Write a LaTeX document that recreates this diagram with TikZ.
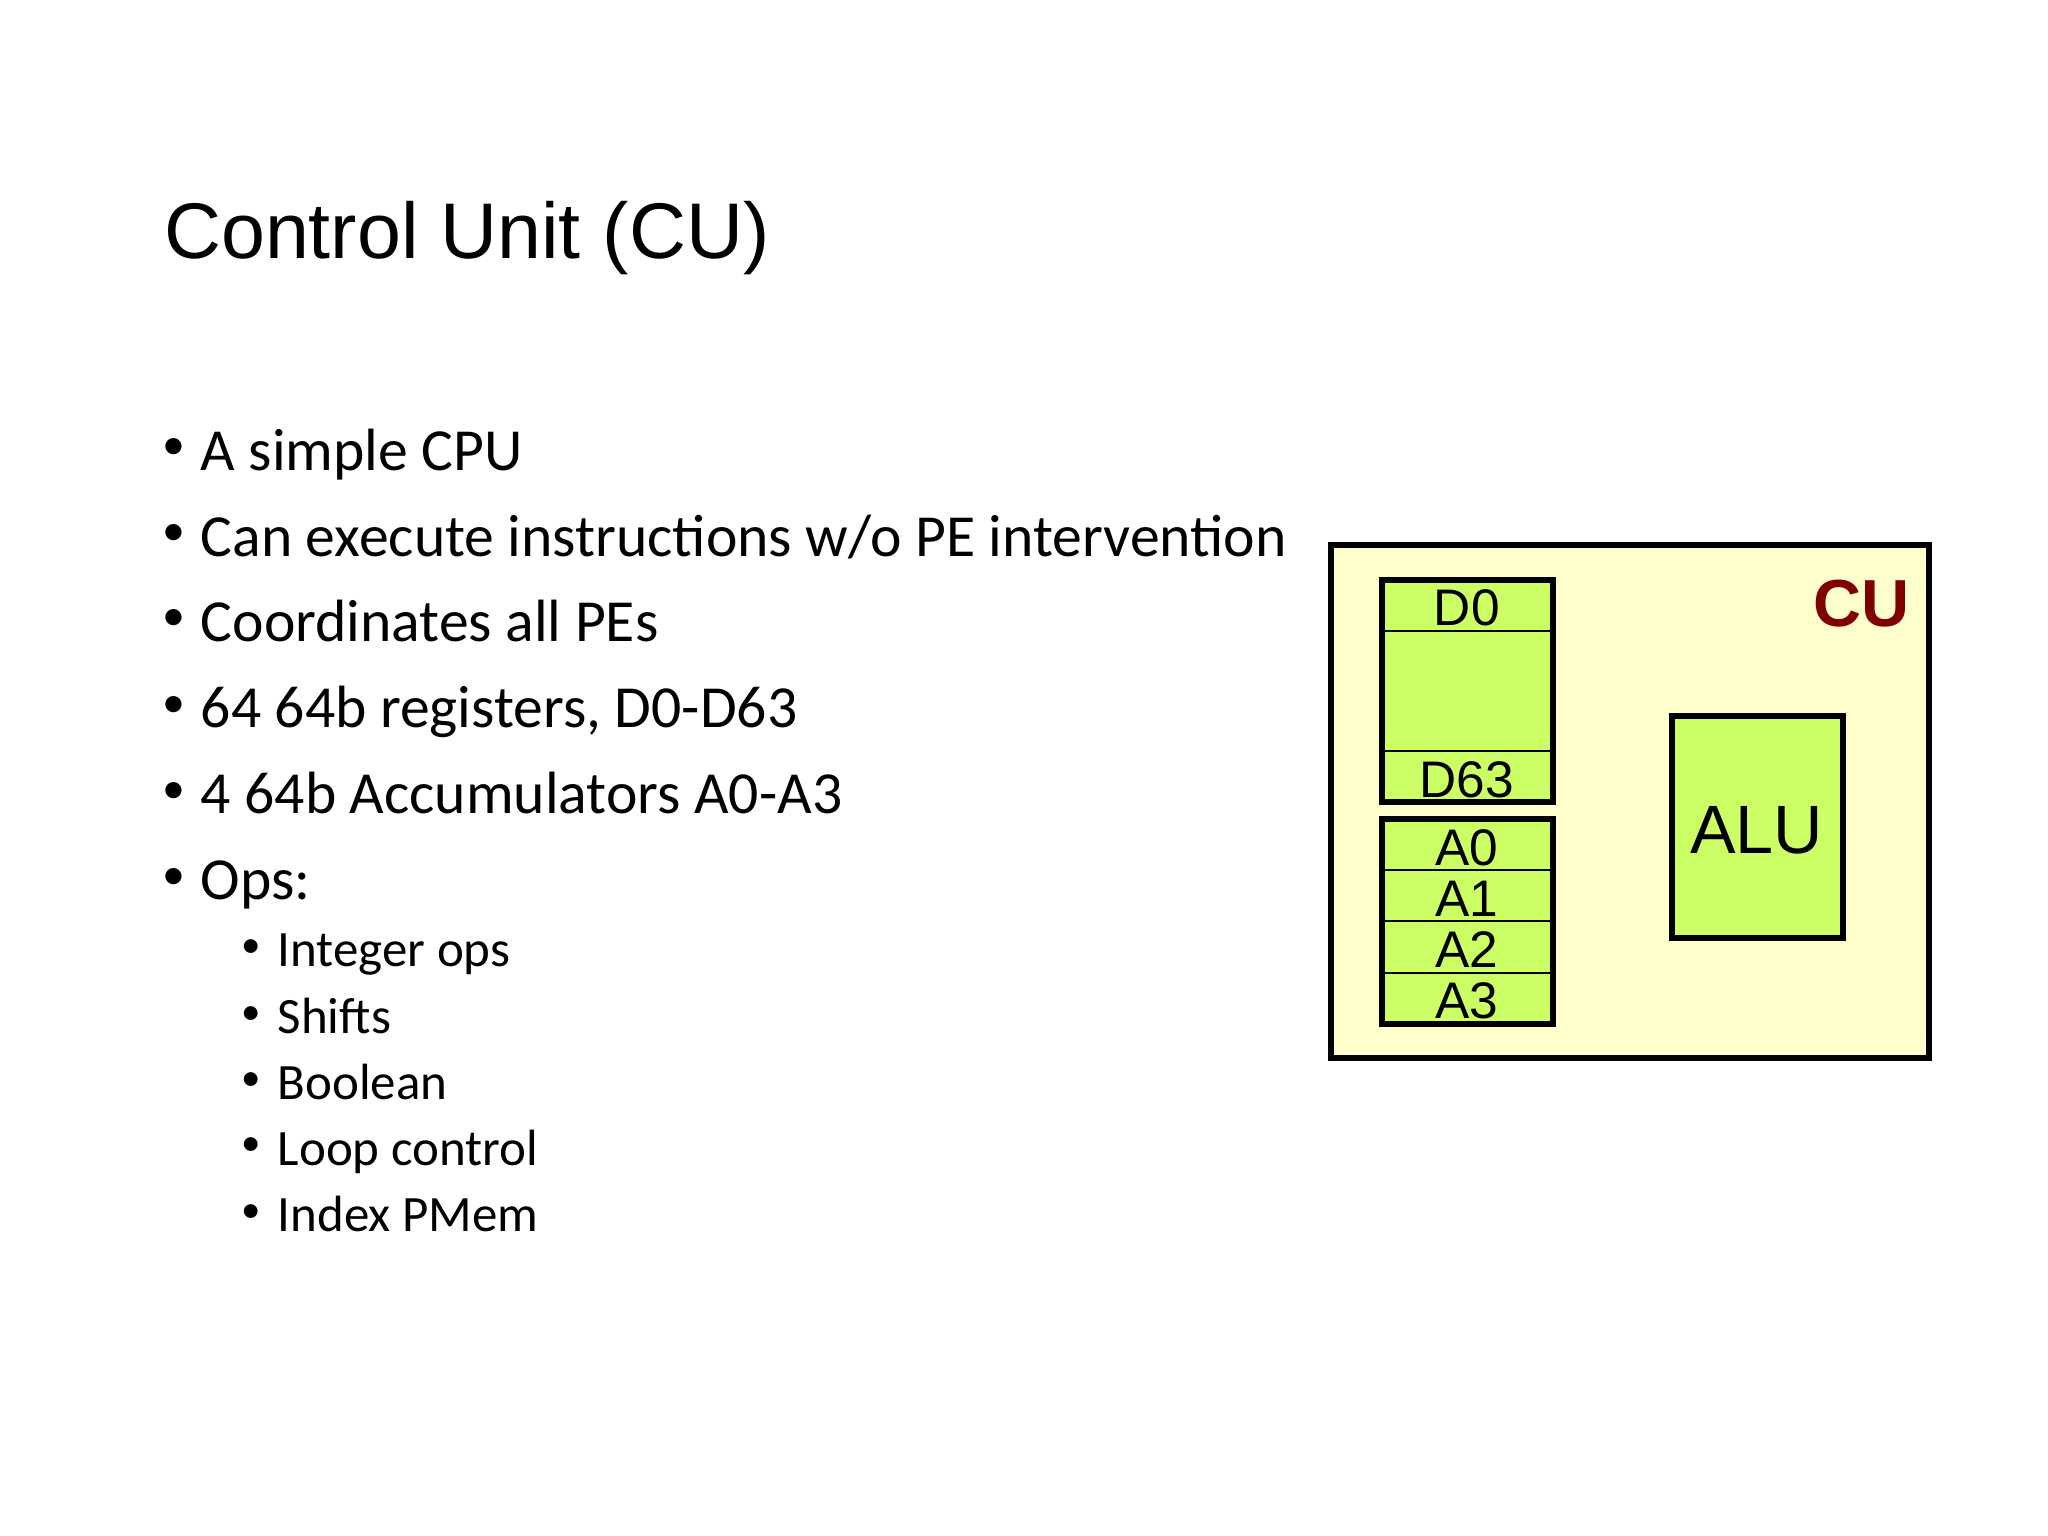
\documentclass[tikz,border=0pt]{standalone}
\usepackage{fontspec}
\setmainfont{Liberation Sans}
\newfontfamily\carlitofont{Carlito}
\begin{document}
\begin{tikzpicture}[x=0.1mm,y=-0.1mm,
  bl/.style={anchor=base west,inner sep=0,font=\carlitofont\fontsize{13}{16}\selectfont},
  sb/.style={anchor=base west,inner sep=0,font=\carlitofont\fontsize{11.1}{14}\selectfont},
  bu/.style={anchor=base west,inner sep=0,font=\carlitofont\fontsize{10}{12}\selectfont},
  reg/.style={draw=black,line width=1.2pt,fill=regc},
  lab/.style={inner sep=0,font=\fontsize{11.2}{13}\selectfont}]
\definecolor{regc}{HTML}{CCFF66}
\definecolor{cuc}{HTML}{FFFFCC}
\definecolor{dred}{HTML}{800000}
\useasboundingbox (0,0) rectangle (1568,1176);
\node[anchor=base west,inner sep=0,font=\fontsize{17.2}{20}\selectfont] (title) at (125,198) {Control Unit (CU)};
\foreach \y/\t [count=\i] in {360/{A simple CPU},426/{Can execute instructions w/o PE intervention},491/{Coordinates all PEs},557/{64 64b registers, D0-D63},623/{4 64b Accumulators A0-A3},689/{Ops:}}{
  \node[bu] (b\i) at (124,\y-8) {\textbullet};
  \node[bl] (t\i) at (153,\y) {\t};}
\foreach \y/\t [count=\i] in {740/{Integer ops},791/{Shifts},842/{Boolean},892/{Loop control},943/{Index PMem}}{
  \node[bu,font=\carlitofont\fontsize{8.5}{10}\selectfont] (sb\i) at (184,\y-7) {\textbullet};
  \node[sb] (st\i) at (212,\y) {\t};}
\draw[line width=1.3pt,fill=cuc] (1019,417) rectangle (1477,810);
\node[inner sep=0,text=dred,font=\bfseries\fontsize{14.5}{18}\selectfont] (cu) at (1425,462) {CU};
\draw[reg] (1058,444) rectangle (1189,614);
\draw[line width=0.5pt] (1058,483) -- (1189,483) (1058,575) -- (1189,575);
\node[lab] (d0) at (1123,465) {D0};
\node[lab] (d63) at (1123,597) {D63};
\draw[reg] (1058,627) rectangle (1189,784);
\draw[line width=0.5pt] (1058,666) -- (1189,666) (1058,705) -- (1189,705) (1058,745) -- (1189,745);
\node[lab] (a0) at (1123,649) {A0};
\node[lab] (a1) at (1123,688) {A1};
\node[lab] (a2) at (1123,727) {A2};
\node[lab] (a3) at (1123,766) {A3};
\draw[reg] (1280,548) rectangle (1411,718);
\node[inner sep=0,font=\fontsize{14.9}{18}\selectfont] (alu) at (1345,636) {ALU};
\end{tikzpicture}
\end{document}
